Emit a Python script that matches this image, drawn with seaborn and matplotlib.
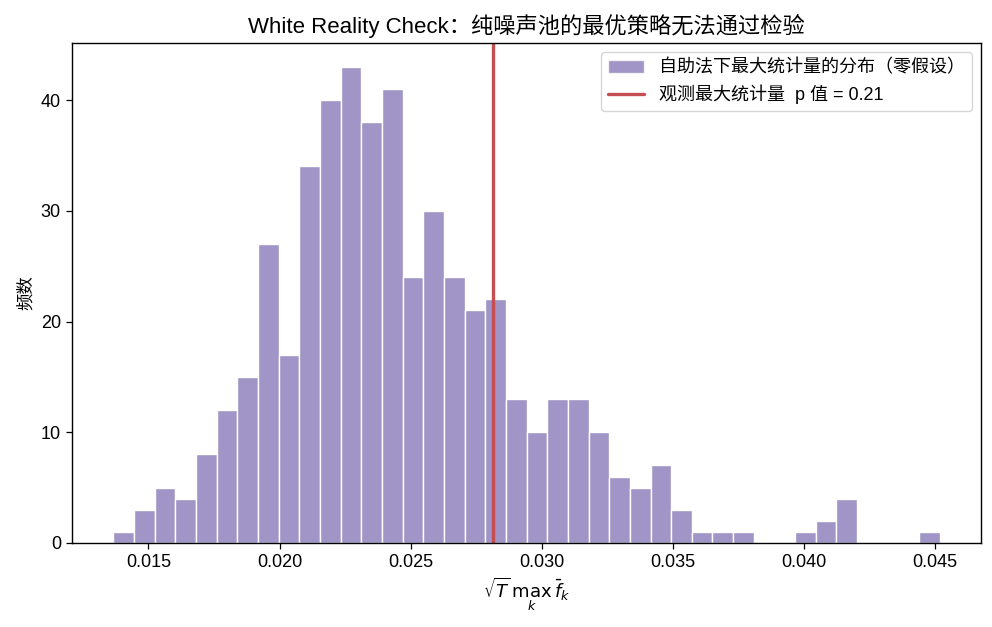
import numpy as np
import pandas as pd
import matplotlib
matplotlib.use("Agg")
import matplotlib.pyplot as plt
from matplotlib.patches import Patch
from matplotlib.lines import Line2D
import seaborn as sns

# Data
bin_start = 0.01366
bin_end = 0.04519
n_bins = 40
counts = [1, 3, 5, 4, 8, 12, 15, 27, 17, 34,
          40, 43, 38, 41, 24, 30, 24, 21, 22, 13,
          10, 13, 13, 10, 6, 5, 7, 3, 1, 1,
          1, 0, 0, 1, 2, 4, 0, 0, 0, 1]
observed_stat = 0.02816
p_value = 0.21

title = "White Reality Check：纯噪声池的最优策略无法通过检验"
xlabel = r"$\sqrt{T}\,\max_k\,\bar{f}_k$"
ylabel = "频数"
hist_label = "自助法下最大统计量的分布（零假设）"
line_label = f"观测最大统计量  p 值 = {p_value:.2f}"

sns.set_style("white")
plt.rcParams["font.family"] = ["Liberation Sans", "Noto Sans CJK SC", "DejaVu Sans"]
plt.rcParams["axes.unicode_minus"] = False
plt.rcParams["text.color"] = "black"
plt.rcParams["axes.labelcolor"] = "black"
plt.rcParams["xtick.color"] = "black"
plt.rcParams["ytick.color"] = "black"

bar_color = "#8172B3"
line_color = "#C44E52"

edges = np.linspace(bin_start, bin_end, n_bins + 1)
centers = (edges[:-1] + edges[1:]) / 2
df = pd.DataFrame({"x": centers, "w": np.asarray(counts, dtype=float)})

fig = plt.figure(figsize=(9.92, 6.27), dpi=100)
ax = fig.add_axes([0.0726, 0.134, 0.9164, 0.7974])

sns.histplot(data=df, x="x", weights="w", bins=list(edges), color=bar_color,
             alpha=0.75, edgecolor="white", linewidth=1, ax=ax)
ax.axvline(observed_stat, color=line_color, linewidth=2.4)

for s in ax.spines.values():
    s.set_visible(True)
    s.set_color("black")
    s.set_linewidth(1.0)
ax.tick_params(axis="both", which="both", direction="out", length=4.5,
               width=0.9, color="black", labelcolor="black", labelsize=13,
               bottom=True, left=True)
ax.set_xticks([0.015, 0.020, 0.025, 0.030, 0.035, 0.040, 0.045])
ax.set_yticks([0, 10, 20, 30, 40])
ax.set_title(title, fontsize=16, pad=7, color="black")
ax.set_xlabel(xlabel, fontsize=13, labelpad=3, color="black")
ax.set_ylabel(ylabel, fontsize=12.5, labelpad=5, color="black")

handles = [Patch(facecolor=bar_color, alpha=0.75, edgecolor="white"),
           Line2D([0], [0], color=line_color, linewidth=2.4)]
ax.legend(handles, [hist_label, line_label], loc="upper right",
          fontsize=13, frameon=True, labelspacing=0.45)

fig.savefig("out.png", dpi=100)
